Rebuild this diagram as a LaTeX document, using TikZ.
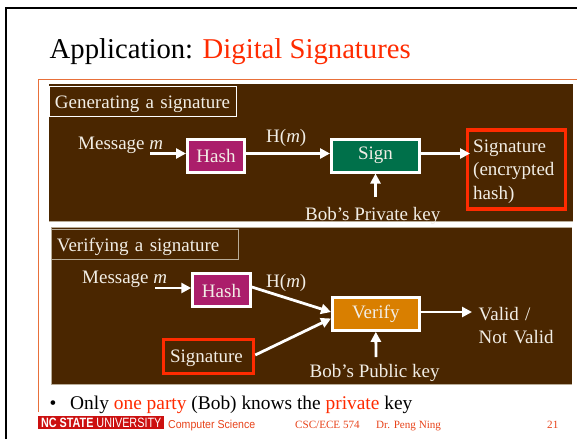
\documentclass[tikz,border=0pt]{standalone}
\usepackage{fontspec}
\setmainfont{Liberation Serif}
\newfontfamily\footsans{Liberation Sans}
\usetikzlibrary{arrows.meta}
\definecolor{panelbrown}{HTML}{4A2600}
\definecolor{hashpurple}{HTML}{AB1E6B}
\definecolor{signgreen}{HTML}{00704A}
\definecolor{verifyorange}{HTML}{D97F00}
\definecolor{hotred}{HTML}{FF2B00}
\definecolor{ruleorange}{HTML}{E8703A}
\definecolor{lighttext}{HTML}{F2EEE6}
\definecolor{edgebeige}{HTML}{B8AC98}
\definecolor{footred}{HTML}{E8431A}
\definecolor{bannerred}{HTML}{CC1010}
\tikzset{
  titlebox/.style={draw=#1,line width=0.8pt,fill=panelbrown,inner ysep=0pt,inner xsep=5.5pt,text width=176pt,align=left,text=lighttext,font=\fontsize{19}{22}\selectfont},
  block/.style={draw=white,line width=3pt,fill=#1,inner sep=0,text=lighttext,font=\fontsize{19}{22}\selectfont},
  redbox/.style={draw=hotred,line width=3.5pt,inner sep=0,text=lighttext,font=\fontsize{19}{22}\selectfont},
  lbl/.style={inner sep=0,anchor=base west,text=lighttext,font=\fontsize{19}{22}\selectfont},
  flow/.style={draw=white,line width=2.8pt,-{Triangle[length=10pt,width=10pt]}},
  foot/.style={inner sep=0,anchor=base west,text=footred,font=\fontsize{11.1}{13}\selectfont},
  body/.style={inner sep=0,anchor=base west,text=black,font=\fontsize{19.4}{22}\selectfont}
}
\begin{document}
\begin{tikzpicture}[x=1pt,y=-1pt]
\useasboundingbox (0,0) rectangle (577,439);
\fill[white] (0,0) rectangle (577,439);
% slide frame
\draw[black,line width=2pt] (5.5,439) -- (5.5,8) -- (577,8);
\draw[ruleorange,line width=1pt] (38,412) -- (38,79.5) -- (577,79.5);
% title
\node[inner sep=0,anchor=base west,font=\fontsize{28.7}{33}\selectfont] (title) at (49.5,58.5) {Application: \textcolor{hotred}{Digital Signatures}};
% panels
\fill[panelbrown] (49,83.5) rectangle (573,221);
\draw[edgebeige,line width=0.8pt] (49,221.5) -- (573,221.5);
\fill[panelbrown] (51,227) rectangle (572,384);
\draw[edgebeige,line width=0.8pt] (51,384) -- (51,227) -- (572,227);
\draw[edgebeige,line width=0.8pt] (51,384.3) -- (572,384.3);
% top section
\node[titlebox=white,minimum height=29.5pt,anchor=north west] (gen) at (49,86) {\rule{0pt}{18pt}Generating a signature};
\node[lbl] (msg1) at (78,149.5) {Message \textit{m}};
\node[block=hashpurple,minimum width=57pt,minimum height=33pt] (hash1) at (216,155.5) {Hash};
\node[lbl] (hm1) at (266,142) {H(\textit{m})};
\node[block=signgreen,minimum width=88pt,minimum height=33pt] (sign) at (375.5,155.5) {Sign};
\node[redbox,minimum width=98pt,minimum height=79pt] (sig1) at (516.5,169.5) {};
\node[lbl,align=left,text width=90pt,anchor=north west,font=\fontsize{19}{23.4}\selectfont] (sig1t) at (473,139.5) {Signature\\(encrypted\\hash)};
\node[lbl] (priv) at (305,220.5) {Bob’s Private key};
\coordinate (m1s) at (150,153.5);
\coordinate (priv1) at (375.5,197);
\coordinate (sigend) at (470,153.5);
\draw[flow] (m1s) -- (m1s -| hash1.west);
\draw[flow] (hash1.east |- m1s) -- (sign.west |- m1s);
\draw[flow] (sign.east |- m1s) -- (sigend);
\draw[flow] (priv1) -- (sign.south);
% bottom section
\node[titlebox=edgebeige,minimum height=30pt,anchor=north west] (ver) at (51,229) {\rule{0pt}{17.5pt}Verifying a signature};
\node[lbl] (msg2) at (82,283) {Message \textit{m}};
\node[block=hashpurple,minimum width=57.5pt,minimum height=33pt] (hash2) at (221.5,290) {\rule{0pt}{15pt}Hash};
\node[lbl] (hm2) at (266,287) {H(\textit{m})};
\node[block=verifyorange,minimum width=87pt,minimum height=33pt] (verify) at (375.8,313.8) {Verify};
\node[redbox,minimum width=90pt,minimum height=34pt] (sig2) at (208.5,356.5) {\hspace*{-4pt}\rule{0pt}{17pt}Signature};
\node[lbl,align=left,font=\fontsize{19}{23.4}\selectfont,text width=80pt,anchor=north west] (valid) at (478.5,307) {Valid /\\Not Valid};
\node[lbl] (pub) at (309.5,377.5) {Bob’s Public key};
\coordinate (m2s) at (155,288);
\coordinate (pub2) at (376,357);
\coordinate (validend) at (472,312);
\coordinate (v1) at (331,312);
\coordinate (v2) at (331,318.5);
\draw[flow] (m2s) -- (m2s -| hash2.west);
\draw[flow] (hash2.east |- 0,287) -- (v1);
\draw[flow] (sig2.east |- 0,355) -- (v2);
\draw[flow] (verify.east |- validend) -- (validend);
\draw[flow] (pub2) -- (verify.south);
% bullet
\node[body] (bullet) at (49.5,409.5) {•};
\node[body] (only) at (70,409.5) {Only \textcolor{hotred}{one party} (Bob) knows the \textcolor{hotred}{private} key};
% footer
\node[fill=bannerred,minimum width=126pt,minimum height=13pt,inner sep=0,anchor=west,text=white] (banner) at (38,422.7) {\footsans\fontsize{13.5}{14}\selectfont\scalebox{0.8}[1]{\textbf{NC STATE} UNIVERSITY}};
\node[foot,font=\footsans\fontsize{11.5}{13}\selectfont] (cs) at (168,428) {\scalebox{0.92}[1]{Computer Science}};
\node[foot] (course) at (295,428) {CSC/ECE 574};
\node[foot] (prof) at (376,428) {Dr. Peng Ning};
\node[foot] (num) at (547,428) {21};
\end{tikzpicture}
\end{document}
